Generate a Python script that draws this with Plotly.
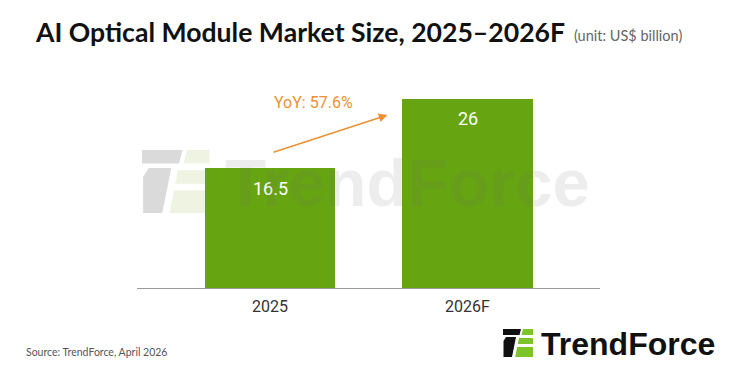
import plotly.graph_objects as go

categories = ["2025", "2026F"]
values = [16.5, 26]
value_labels = ["16.5", "26"]
yoy_label = "YoY: 57.6%"

W, H = 734, 376
OFF = 8  # page body margin compensation
# target plot area in screenshot pixels
X0, X1, Y0, Y1 = 137, 600, 80, 288
L, T = X0 - OFF, Y0 - OFF
R, B = W - (X1 - OFF), H - (Y1 - OFF)
PW, PH = X1 - X0, Y1 - Y0

def px(x):
    return (x - X0) / PW

def py(y):
    return (Y1 - y) / PH

BAR = "#66A511"
ORANGE = "#EE9035"

fig = go.Figure()
fig.add_trace(go.Bar(
    x=[0, 1], y=values, width=0.66, marker=dict(color=BAR, line=dict(width=0)),
    hoverinfo="skip",
))

ann = []
for i, (v, lab) in enumerate(zip(values, value_labels)):
    ann.append(dict(x=i, y=v, text=lab, showarrow=False, yshift=-20,
                    font=dict(family="Roboto", size=18, color="white"),
                    xref="x", yref="y"))

# YoY arrow and label
ann.append(dict(x=0.595, y=values[1] - 2.2, ax=0.01, ay=values[0] + 2.1,
                xref="x", yref="y", axref="x", ayref="y", text="",
                showarrow=True, arrowhead=2, arrowsize=1.1, arrowwidth=1.6,
                arrowcolor=ORANGE))
ann.append(dict(x=px(272), y=py(102), xref="paper", yref="paper", xanchor="left",
                yanchor="middle", text=yoy_label, showarrow=False,
                font=dict(family="Roboto", size=16, color=ORANGE)))

# Title
ann.append(dict(x=px(33), y=py(32), xref="paper", yref="paper", xanchor="left",
                yanchor="middle", showarrow=False,
                text="<b>AI Optical Module Market Size, 2025–2026F</b>",
                font=dict(family="Lato", size=26.6, color="#111111")))
ann.append(dict(x=px(572), y=py(35), xref="paper", yref="paper", xanchor="left",
                yanchor="middle", showarrow=False,
                text="(unit: US$ billion)",
                font=dict(family="Lato", size=14.5, color="#666666")))

# Source
ann.append(dict(x=px(24), y=py(352), xref="paper", yref="paper", xanchor="left",
                yanchor="middle", showarrow=False,
                text="Source: TrendForce, April 2026",
                font=dict(family="Lato", size=10.5, color="#555555")))

# Logo text bottom right
ann.append(dict(x=px(539), y=py(344), xref="paper", yref="paper", xanchor="left",
                yanchor="middle", showarrow=False,
                text="<b>TrendForce</b>",
                font=dict(family="Liberation Sans", size=32, color="#111111")))

# Watermark text
ann.append(dict(x=px(223), y=py(182), xref="paper", yref="paper", xanchor="left",
                yanchor="middle", showarrow=False,
                text="<b>TrendForce</b>",
                font=dict(family="Liberation Sans", size=67, color="rgba(110,110,110,0.12)")))

shapes = []

def poly(pts, color, layer="above"):
    d = "M " + " L ".join(f"{px(x):.5f},{py(y):.5f}" for x, y in pts) + " Z"
    shapes.append(dict(type="path", path=d, xref="paper", yref="paper",
                       fillcolor=color, line=dict(width=0), layer=layer))

def logo(ox, oy, s, black, green, layer):
    def t(pts):
        return [(ox + x * s, oy + y * s) for x, y in pts]
    poly(t([(0, 0), (18, 0), (16.5, 6), (0, 6)]), black, layer)
    poly(t([(20, 0), (30, 0), (30, 6), (18.5, 6)]), green, layer)
    poly(t([(3, 8), (13, 8), (9, 28), (0.5, 28), (0.5, 12)]), black, layer)
    poly(t([(16, 9), (30, 9), (30, 15), (14.8, 15)]), green, layer)
    poly(t([(14.2, 18), (30, 18), (30, 28), (12.2, 28)]), green, layer)

logo(503, 329, 1.0, "#111111", "#7CC42A", "above")
logo(142, 150, 2.25, "#DADADA", "#EEF3E2", "below")

fig.update_layout(
    width=W, height=H, margin=dict(l=L, r=R, t=T, b=B),
    paper_bgcolor="white", plot_bgcolor="rgba(0,0,0,0)",
    showlegend=False, bargap=0,
    xaxis=dict(range=[(X0 - 270) / 197.5, (X1 - 270) / 197.5],
               tickvals=[0, 1], ticktext=categories, showgrid=False,
               zeroline=False, showline=True, linecolor="#9A9A9A", linewidth=1.2,
               ticks="", ticklabelstandoff=4,
               tickfont=dict(family="Roboto", size=16, color="#333333"),
               fixedrange=True),
    yaxis=dict(range=[0, PH / 7.27], visible=False, fixedrange=True),
    annotations=ann, shapes=shapes,
)
fig.write_html("out.html")
